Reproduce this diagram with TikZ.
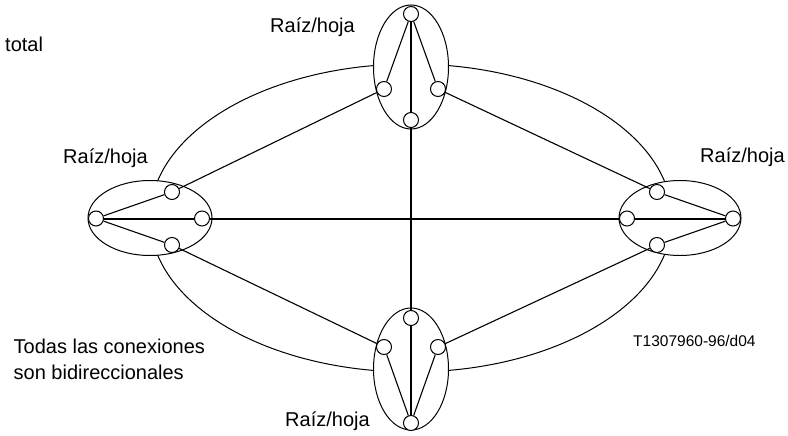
\documentclass[tikz,border=0pt]{standalone}
\usepackage{fontspec}
\setmainfont{Liberation Sans}
\pgfdeclarelayer{back}
\pgfdeclarelayer{lines}
\pgfsetlayers{back,lines,main}
\begin{document}
\begin{tikzpicture}[x=1pt,y=-1pt,
  dot/.style={circle,draw,fill=white,line width=1pt,minimum size=15pt,inner sep=0pt},
  conn/.style={line width=1.1pt},
  trunk/.style={line width=2pt},
  ring/.style={draw,line width=1pt},
  cluster/.style={draw,fill=white,line width=1pt},
  lbl/.style={anchor=base west,inner sep=0pt,font=\fontsize{20}{24}\selectfont}]
\useasboundingbox (0,0) rectangle (788,436);
% small circles
\node[dot] (t1) at (411,14) {};
\node[dot] (t2) at (384,89) {};
\node[dot] (t3) at (438,89) {};
\node[dot] (t4) at (411,120) {};
\node[dot] (b1) at (411,318) {};
\node[dot] (b2) at (384,347) {};
\node[dot] (b3) at (438,347) {};
\node[dot] (b4) at (411,423) {};
\node[dot] (l1) at (96,218.5) {};
\node[dot] (l2) at (172,192) {};
\node[dot] (l3) at (202,218.5) {};
\node[dot] (l4) at (172,245) {};
\node[dot] (r1) at (627,218.5) {};
\node[dot] (r2) at (657,192) {};
\node[dot] (r3) at (733,218.5) {};
\node[dot] (r4) at (657,245) {};
% ellipses
\begin{pgfonlayer}{back}
  \draw[ring] (411,218) ellipse [x radius=261, y radius=154];
  \path[cluster] (411,67) ellipse [x radius=37.5, y radius=62];
  \path[cluster] (411,369) ellipse [x radius=37.5, y radius=61];
  \path[cluster] (150,218) ellipse [x radius=62, y radius=37.5];
  \path[cluster] (680,218) ellipse [x radius=61, y radius=37.5];
\end{pgfonlayer}
% connections
\begin{pgfonlayer}{lines}
  \draw[trunk] (t1.center) -- (b4.center);
  \draw[trunk] (l1.center) -- (r3.center);
  \draw[conn] (t1) -- (t2);
  \draw[conn] (t1) -- (t3);
  \draw[conn] (b4) -- (b2);
  \draw[conn] (b4) -- (b3);
  \draw[conn] (l1) -- (l2);
  \draw[conn] (l1) -- (l4);
  \draw[conn] (r3) -- (r2);
  \draw[conn] (r3) -- (r4);
  \draw[conn] (l2) -- (t2);
  \draw[conn] (t3) -- (r2);
  \draw[conn] (l4) -- (b2);
  \draw[conn] (b3) -- (r4);
\end{pgfonlayer}
% labels
\node[lbl] (lt) at (270,32.5) {Raíz/hoja};
\node[lbl] (ll) at (63,164) {Raíz/hoja};
\node[lbl] (lr) at (700,162.5) {Raíz/hoja};
\node[lbl] (lb) at (285,426) {Raíz/hoja};
\node[lbl] (tot) at (5,52) {total};
\node[lbl] (n1) at (13.5,353) {Todas las conexiones};
\node[lbl] (n2) at (13.5,379.5) {son bidireccionales};
\node[anchor=base west,inner sep=0pt,font=\fontsize{15.5}{18}\selectfont] (code) at (633,346) {T1307960-96/d04};
\end{tikzpicture}
\end{document}
